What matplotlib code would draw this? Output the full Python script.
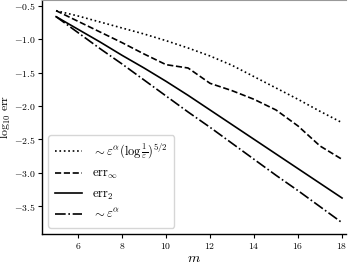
import matplotlib
matplotlib.use("Agg")
import matplotlib.pyplot as plt
from matplotlib.ticker import FuncFormatter, MultipleLocator

plt.rcParams['mathtext.fontset'] = 'cm'
plt.rcParams['font.family'] = 'serif'
plt.rcParams['font.serif'] = ['DejaVu Serif']

m = [5, 6, 7, 8, 9, 10, 11, 12, 13, 14, 15, 16, 17, 18]
bound_log = [-0.57, -0.65, -0.74, -0.83, -0.92, -1.02, -1.13, -1.25, -1.39, -1.56, -1.73, -1.90, -2.08, -2.25]
err_inf = [-0.57, -0.73, -0.89, -1.05, -1.22, -1.38, -1.43, -1.66, -1.77, -1.90, -2.06, -2.30, -2.60, -2.80]
err_2 = [-0.66, -0.85, -1.04, -1.24, -1.43, -1.63, -1.84, -2.06, -2.28, -2.50, -2.72, -2.94, -3.16, -3.38]
bound_eps = [-0.66, -0.90, -1.14, -1.37, -1.61, -1.85, -2.09, -2.32, -2.56, -2.80, -3.04, -3.27, -3.51, -3.75]

labels = [r"$\sim \varepsilon^{\alpha}(\log\frac{1}{\varepsilon})^{5/2}$",
          r"$\mathrm{err}_\infty$",
          r"$\mathrm{err}_2$",
          r"$\sim \varepsilon^{\alpha}$"]

fig = plt.figure(figsize=(3.57, 2.66), dpi=100)
ax = fig.add_axes([42/357, 32/266, 304/357, 234/266])

lw = 1.2
ax.plot(m, bound_log, color='black', linestyle=':', lw=lw, label=labels[0])
ax.plot(m, err_inf, color='black', linestyle='--', lw=lw, label=labels[1])
ax.plot(m, err_2, color='black', linestyle='-', lw=lw, label=labels[2])
ax.plot(m, bound_eps, color='black', linestyle='-.', lw=lw, label=labels[3])

ax.set_xlim(4.36, 18.18)
ax.set_ylim(-3.92, -0.41)
ax.xaxis.set_major_locator(MultipleLocator(2))
ax.yaxis.set_major_locator(MultipleLocator(0.5))
ax.xaxis.set_major_formatter(FuncFormatter(lambda v, p: f"${int(round(v))}$"))
ax.yaxis.set_major_formatter(FuncFormatter(lambda v, p: f"${v:.1f}$"))
ax.tick_params(axis='both', labelsize=7, length=3, width=0.8, direction='out', pad=2)
ax.tick_params(axis='y', pad=1.5)

ax.spines['right'].set_visible(False)
ax.spines['top'].set_color('#999999')
ax.spines['left'].set_linewidth(1.0)
ax.spines['bottom'].set_linewidth(1.0)

ax.set_xlabel(r"$m$", fontsize=10, labelpad=0)
ax.set_ylabel(r"$\log_{10}\,\mathrm{err}$", fontsize=8.5)
ax.yaxis.set_label_coords(-28.5/304, 0.5)

leg = ax.legend(loc='lower left', fontsize=9, frameon=True, fancybox=True,
                edgecolor='#cccccc', handlelength=2.2, handletextpad=0.8,
                labelspacing=0.5, borderaxespad=0.5, borderpad=0.5)

fig.savefig("out.png", dpi=100)
